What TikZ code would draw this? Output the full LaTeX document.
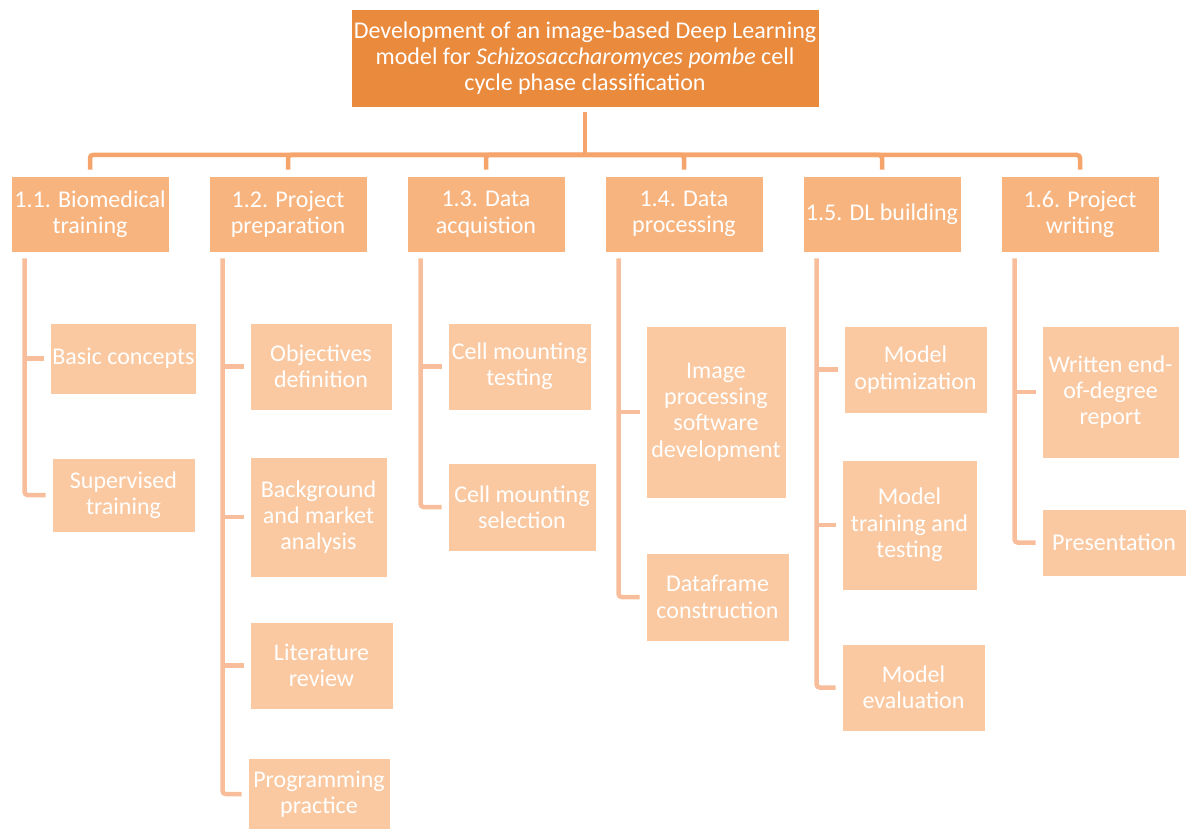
\documentclass[tikz,border=0pt]{standalone}
\usepackage{fontspec}
\setmainfont{Carlito}
\definecolor{topfill}{HTML}{E98A3D}
\definecolor{midfill}{HTML}{F8B47E}
\definecolor{leaffill}{HTML}{FAC9A1}
\definecolor{mainline}{HTML}{F5A46C}
\definecolor{childline}{HTML}{F8BE9B}
\tikzset{
  box/.style={draw=white, line width=0.8pt, text=white, align=center, inner sep=2pt,
    font=\fontsize{24}{26.3}\selectfont},
  topbox/.style={box, fill=topfill, minimum width=468pt, minimum height=98pt},
  midbox/.style={box, fill=midfill, minimum width=158pt, minimum height=76pt},
  leaf/.style={box, fill=leaffill},
  mainconn/.style={draw=mainline, line width=4.5pt, rounded corners=3pt},
  childconn/.style={draw=childline, line width=4.5pt, rounded corners=3pt},
}
\begin{document}
\begin{tikzpicture}[x=1pt,y=-1pt]
\useasboundingbox (0,0) rectangle (1186,829);
\node[topbox] (top) at (585,58) {Development of an image-based Deep Learning\\model for \textit{Schizosaccharomyces pombe} cell\\cycle phase classification};
\node[midbox] (m1) at (90,214) {1.1. Biomedical\\training};
\node[midbox] (m2) at (288,214) {1.2. Project\\preparation};
\node[midbox] (m3) at (486,214) {1.3. Data\\acquistion};
\node[midbox] (m4) at (684,214) {1.4. Data\\processing};
\node[midbox] (m5) at (882,214) {1.5. DL building};
\node[midbox] (m6) at (1080,214) {1.6. Project\\writing};
\coordinate (bar) at (585,155);
\draw[mainconn] ([yshift=-5pt]top.south) -- (bar);
\foreach \m in {m1,m2,m3,m4,m5,m6}{
  \draw[mainconn] (bar) -| ([yshift=6pt]\m.north);
}
% leaves
\node[leaf, minimum width=143pt, minimum height=71pt] (a1) at (123.5,358.5) {Basic concepts};
\node[leaf, minimum width=143pt, minimum height=74pt] (a2) at (123.5,495) {Supervised\\training};
\node[leaf, minimum width=142pt, minimum height=87pt] (b1) at (321,366.5) {Objectives\\definition};
\node[leaf, minimum width=137pt, minimum height=120pt] (b2) at (318.5,517) {Background\\and market\\analysis};
\node[leaf, minimum width=143pt, minimum height=87pt] (b3) at (321.5,665.5) {Literature\\review};
\node[leaf, minimum width=142pt, minimum height=72pt] (b4) at (319,794) {Programming\\practice};
\node[leaf, minimum width=143pt, minimum height=87pt] (c1) at (519.5,366.5) {Cell mounting\\testing};
\node[leaf, minimum width=148pt, minimum height=88pt] (c2) at (522,507) {Cell mounting\\selection};
\node[leaf, minimum width=140pt, minimum height=172pt] (d1) at (716,412) {Image\\processing\\software\\development};
\node[leaf, minimum width=143pt, minimum height=88pt] (d2) at (717.5,597) {Dataframe\\construction};
\node[leaf, minimum width=143pt, minimum height=87pt] (e1) at (915.5,369.5) {Model\\optimization};
\node[leaf, minimum width=135pt, minimum height=130pt] (e2) at (909.5,525) {Model\\training and\\testing};
\node[leaf, minimum width=143pt, minimum height=87pt] (e3) at (913.5,687.5) {Model\\evaluation};
\node[leaf, minimum width=137pt, minimum height=132pt] (f1) at (1110.5,392) {Written end-\\of-degree\\report};
\node[leaf, minimum width=144pt, minimum height=67pt] (f2) at (1114,542.5) {Presentation};
% child connectors
\foreach \m/\last/\others in {m1/a2/{a1}, m2/b4/{b1,b2,b3}, m3/c2/{c1}, m4/d2/{d1}, m5/e3/{e1,e2}, m6/f2/{f1}}{
  \coordinate (v\m) at ([xshift=14pt,yshift=-6pt]\m.south west);
  \draw[childconn] (v\m) |- ([xshift=-6pt]\last.west);
  \foreach \o in \others {
    \draw[childconn] (v\m |- \o.west) -- ([xshift=-6pt]\o.west);
  }
}
\end{tikzpicture}
\end{document}
